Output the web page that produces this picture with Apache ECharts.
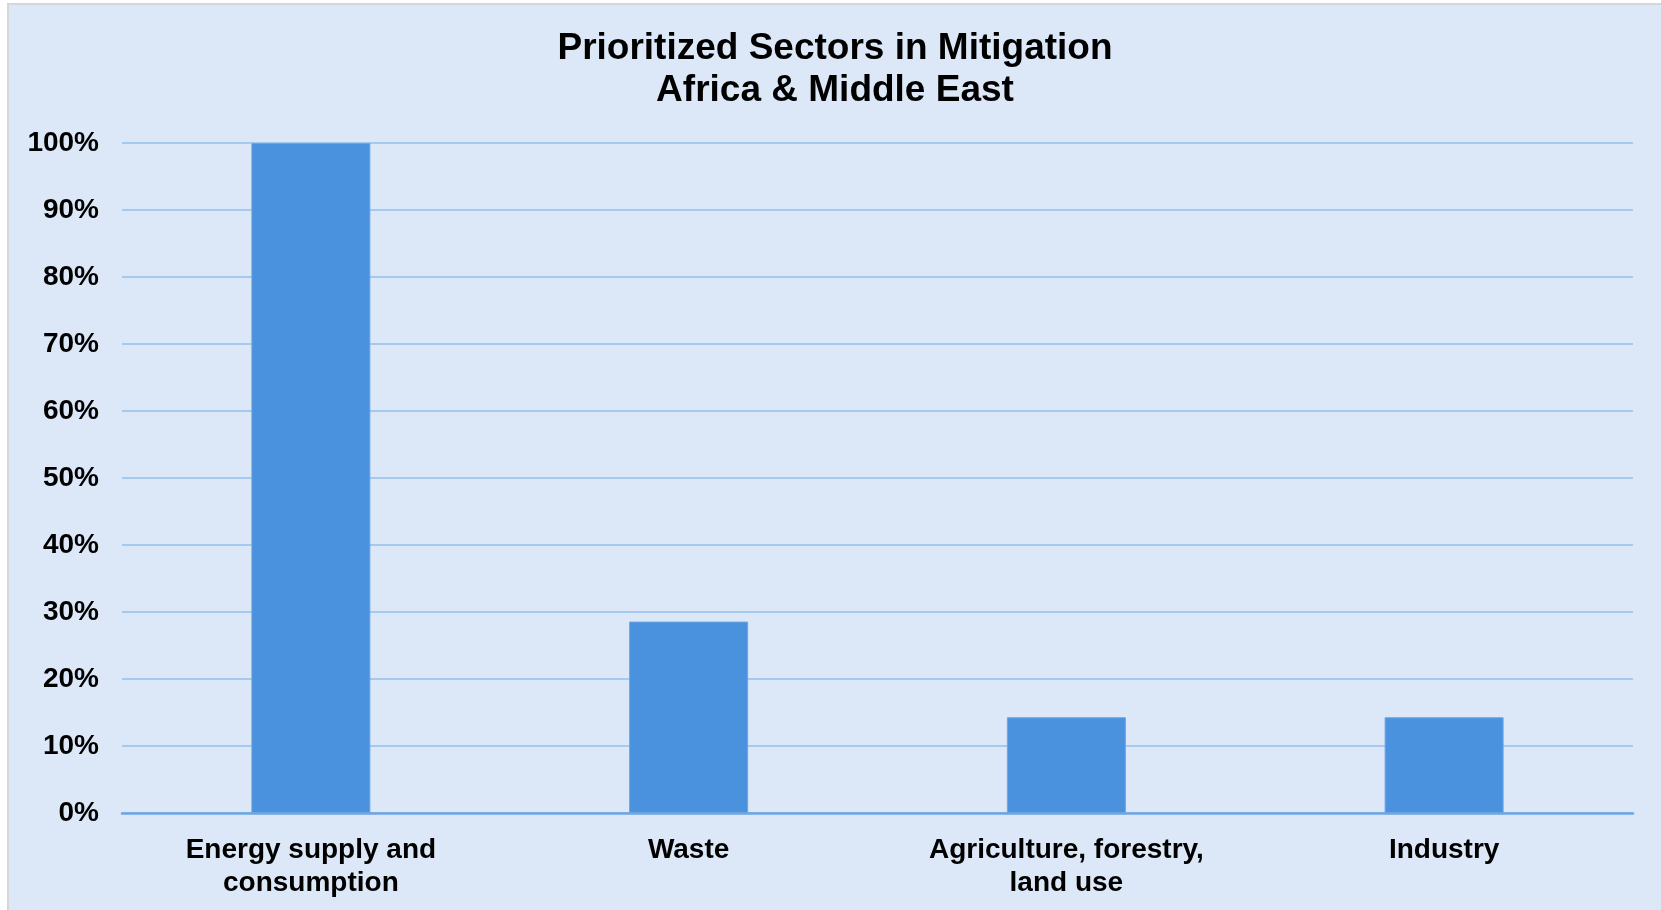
<!DOCTYPE html>
<html>
<head>
<meta charset="utf-8">
<title>Prioritized Sectors in Mitigation</title>
<script src="https://cdn.jsdelivr.net/npm/echarts@6/dist/echarts.min.js"></script>
<style>
  html, body { margin: 0; padding: 0; background: #ffffff; }
  #chart { width: 1661px; height: 910px; }
</style>
</head>
<body>
<div id="chart"></div>
<script>
// Sectors named as priorities for mitigation (share of responses)
const titleLines = ['Prioritized Sectors in Mitigation', 'Africa & Middle East'];
const sectors = ['Energy supply and\nconsumption', 'Waste', 'Agriculture, forestry,\nland use', 'Industry'];
const shares = [100, 28.57, 14.29, 14.29];
const yTicks = [0, 10, 20, 30, 40, 50, 60, 70, 80, 90, 100];

const font = '"Liberation Sans", Arial, Helvetica, sans-serif';
const chart = echarts.init(document.getElementById('chart'), null, { renderer: 'canvas' });

chart.setOption({
  backgroundColor: '#ffffff',
  animation: false,
  graphic: [{
    type: 'rect',
    z: -10,
    silent: true,
    shape: { x: 8, y: 4, width: 1700, height: 1000 },
    style: { fill: '#dce8f7', stroke: '#d4d6d9', lineWidth: 2 }
  }],
  title: {
    text: titleLines.join('\n'),
    left: 830,
    top: 23,
    textAlign: 'center',
    textStyle: {
      fontFamily: font,
      fontWeight: 'bold',
      fontSize: 37,
      lineHeight: 42,
      color: '#000000'
    }
  },
  grid: { left: 122, right: 28, top: 143, bottom: 97, containLabel: false },
  xAxis: {
    type: 'category',
    data: sectors,
    axisTick: { show: false },
    axisLine: { show: true, lineStyle: { color: '#6fa4e2', width: 2.5 } },
    axisLabel: {
      margin: 21,
      interval: 0,
      fontFamily: font,
      fontWeight: 'bold',
      fontSize: 28,
      lineHeight: 33,
      color: '#000000'
    }
  },
  yAxis: {
    type: 'value',
    min: yTicks[0],
    max: yTicks[yTicks.length - 1],
    interval: 10,
    axisLine: { show: false },
    axisTick: { show: false },
    splitLine: { lineStyle: { color: '#a6c9ef', width: 2 } },
    axisLabel: {
      margin: 23,
      formatter: v => v + '%',
      fontFamily: font,
      fontWeight: 'bold',
      fontSize: 28,
      color: '#000000'
    }
  },
  series: [{
    type: 'bar',
    data: shares,
    barWidth: '31.5%',
    itemStyle: { color: '#4a92dd', borderColor: '#6aa5e6', borderWidth: 1 }
  }]
});
</script>
</body>
</html>
